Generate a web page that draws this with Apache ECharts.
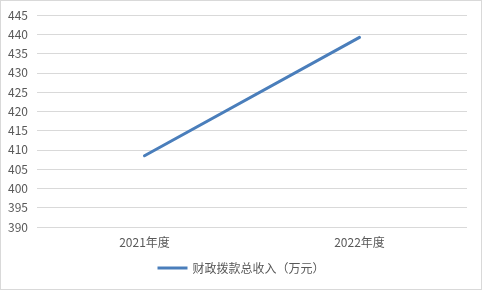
<!DOCTYPE html>
<html>
<head>
<meta charset="utf-8">
<script src="https://cdn.jsdelivr.net/npm/echarts@6/dist/echarts.min.js"></script>
<style>
html,body{margin:0;padding:0;background:#fff;}
#chart{width:480px;height:288px;border:1px solid #d9d9d9;}
</style>
</head>
<body>
<div id="chart"></div>
<script>
// Yearly figures for the single series
const categories = ['2021年度', '2022年度'];
const seriesName = '财政拨款总收入（万元）';
const revenue = [408.5, 439.2];
const yTicks = { min: 390, max: 445, step: 5 };

const chart = echarts.init(document.getElementById('chart'), null, { renderer: 'canvas' });
const font = '"Noto Sans CJK SC", "Liberation Sans", sans-serif';
chart.setOption({
  animation: false,
  textStyle: { fontFamily: font },
  grid: { left: 36, right: 14, top: 14, bottom: 62 },
  legend: {
    data: [seriesName],
    bottom: 10,
    left: 'center',
    itemWidth: 30,
    itemHeight: 3,
    itemGap: 4,
    icon: 'rect',
    textStyle: { color: '#595959', fontSize: 12, fontFamily: font }
  },
  xAxis: {
    type: 'category',
    data: categories,
    boundaryGap: true,
    axisLine: { show: false },
    axisTick: { show: false },
    axisLabel: { color: '#595959', fontSize: 12, margin: 9, fontFamily: font }
  },
  yAxis: {
    type: 'value',
    min: yTicks.min,
    max: yTicks.max,
    interval: yTicks.step,
    axisLine: { show: false },
    axisTick: { show: false },
    axisLabel: { color: '#595959', fontSize: 12, margin: 9, fontFamily: font },
    splitLine: { lineStyle: { color: '#d9d9d9', width: 1 } }
  },
  series: [{
    name: seriesName,
    type: 'line',
    data: revenue,
    symbol: 'none',
    lineStyle: { color: '#4a7ebb', width: 3, cap: 'round' },
    itemStyle: { color: '#4a7ebb' }
  }]
});
</script>
</body>
</html>
